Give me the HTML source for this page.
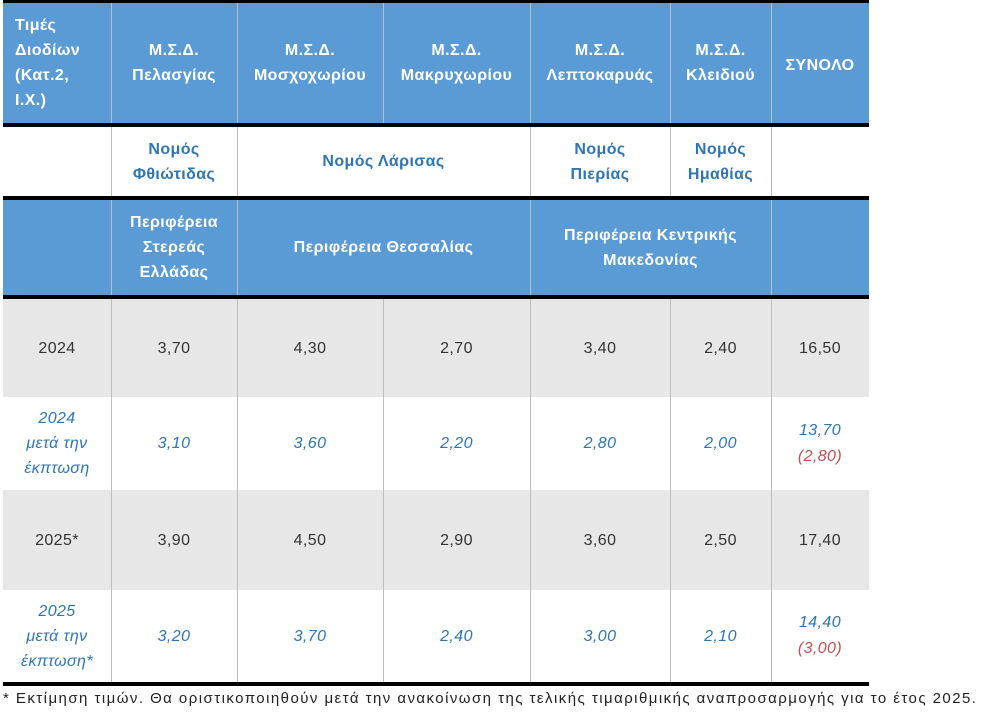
<!DOCTYPE html>
<html><head><meta charset="utf-8"><style>
body{margin:0;width:999px;height:717px;background:#fff;position:relative;font-family:"Liberation Sans","DejaVu Sans",sans-serif;overflow:hidden}
.c{position:absolute;display:flex;align-items:center;justify-content:center;text-align:center;font-size:16px;line-height:25px;box-sizing:border-box;letter-spacing:0.4px}
.h{background:#5b9bd5;color:#fff;font-weight:bold}
.w{background:#fff;color:#2e75b6;font-weight:bold}
.g{background:#e7e7e7;color:#333}
.i{background:#fff;color:#2e75b6;font-style:italic}
.r{color:#c0504d}
.k{position:absolute;background:#000;left:3px;width:866px;height:4px}
.v{position:absolute;width:1px;background:#bdbdbd}
</style></head><body>
<div class="c h" style="left:3px;top:3px;width:108px;height:120px;justify-content:flex-start;padding-left:12px;text-align:left"><div>Τιμές<br>Διοδίων<br>(Κατ.2,<br>Ι.Χ.)</div></div>
<div class="c h" style="left:111px;top:3px;width:126px;height:120px"><div>Μ.Σ.Δ.<br>Πελασγίας</div></div>
<div class="c h" style="left:237px;top:3px;width:146px;height:120px"><div>Μ.Σ.Δ.<br>Μοσχοχωρίου</div></div>
<div class="c h" style="left:383px;top:3px;width:147px;height:120px"><div>Μ.Σ.Δ.<br>Μακρυχωρίου</div></div>
<div class="c h" style="left:530px;top:3px;width:140px;height:120px"><div>Μ.Σ.Δ.<br>Λεπτοκαρυάς</div></div>
<div class="c h" style="left:670px;top:3px;width:101px;height:120px"><div>Μ.Σ.Δ.<br>Κλειδιού</div></div>
<div class="c h" style="left:771px;top:3px;width:98px;height:120px;align-items:flex-start;padding-top:50px"><div>ΣΥΝΟΛΟ</div></div>
<div class="c w" style="left:3px;top:127px;width:108px;height:69px"></div>
<div class="c w" style="left:111px;top:127px;width:126px;height:69px"><div>Νομός<br>Φθιώτιδας</div></div>
<div class="c w" style="left:237px;top:127px;width:293px;height:69px"><div>Νομός Λάρισας</div></div>
<div class="c w" style="left:530px;top:127px;width:140px;height:69px"><div>Νομός<br>Πιερίας</div></div>
<div class="c w" style="left:670px;top:127px;width:101px;height:69px"><div>Νομός<br>Ημαθίας</div></div>
<div class="c w" style="left:771px;top:127px;width:98px;height:69px"></div>
<div class="c h" style="left:3px;top:200px;width:866px;height:95px"></div>
<div class="c h" style="left:111px;top:200px;width:126px;height:95px"><div>Περιφέρεια<br>Στερεάς<br>Ελλάδας</div></div>
<div class="c h" style="left:237px;top:200px;width:293px;height:95px"><div>Περιφέρεια Θεσσαλίας</div></div>
<div class="c h" style="left:530px;top:200px;width:241px;height:95px"><div>Περιφέρεια Κεντρικής<br>Μακεδονίας</div></div>
<div class="c g" style="left:3px;top:299px;width:866px;height:98px"></div>
<div class="c g" style="left:3px;top:490px;width:866px;height:100px"></div>

<div class="c g" style="left:3px;top:299px;width:108px;height:98px"><div>2024</div></div>
<div class="c g" style="left:111px;top:299px;width:126px;height:98px"><div>3,70</div></div>
<div class="c g" style="left:237px;top:299px;width:146px;height:98px"><div>4,30</div></div>
<div class="c g" style="left:383px;top:299px;width:147px;height:98px"><div>2,70</div></div>
<div class="c g" style="left:530px;top:299px;width:140px;height:98px"><div>3,40</div></div>
<div class="c g" style="left:670px;top:299px;width:101px;height:98px"><div>2,40</div></div>
<div class="c g" style="left:771px;top:299px;width:98px;height:98px"><div>16,50</div></div>

<div class="c i" style="left:3px;top:397px;width:108px;height:93px"><div>2024<br>μετά την<br>έκπτωση</div></div>
<div class="c i" style="left:111px;top:397px;width:126px;height:93px"><div>3,10</div></div>
<div class="c i" style="left:237px;top:397px;width:146px;height:93px"><div>3,60</div></div>
<div class="c i" style="left:383px;top:397px;width:147px;height:93px"><div>2,20</div></div>
<div class="c i" style="left:530px;top:397px;width:140px;height:93px"><div>2,80</div></div>
<div class="c i" style="left:670px;top:397px;width:101px;height:93px"><div>2,00</div></div>
<div class="c i" style="left:771px;top:397px;width:98px;height:93px;line-height:26px"><div>13,70<br><span class="r">(2,80)</span></div></div>

<div class="c g" style="left:3px;top:490px;width:108px;height:100px"><div>2025*</div></div>
<div class="c g" style="left:111px;top:490px;width:126px;height:100px"><div>3,90</div></div>
<div class="c g" style="left:237px;top:490px;width:146px;height:100px"><div>4,50</div></div>
<div class="c g" style="left:383px;top:490px;width:147px;height:100px"><div>2,90</div></div>
<div class="c g" style="left:530px;top:490px;width:140px;height:100px"><div>3,60</div></div>
<div class="c g" style="left:670px;top:490px;width:101px;height:100px"><div>2,50</div></div>
<div class="c g" style="left:771px;top:490px;width:98px;height:100px"><div>17,40</div></div>

<div class="c i" style="left:3px;top:590px;width:108px;height:92px"><div>2025<br>μετά την<br>έκπτωση*</div></div>
<div class="c i" style="left:111px;top:590px;width:126px;height:92px"><div>3,20</div></div>
<div class="c i" style="left:237px;top:590px;width:146px;height:92px"><div>3,70</div></div>
<div class="c i" style="left:383px;top:590px;width:147px;height:92px"><div>2,40</div></div>
<div class="c i" style="left:530px;top:590px;width:140px;height:92px"><div>3,00</div></div>
<div class="c i" style="left:670px;top:590px;width:101px;height:92px"><div>2,10</div></div>
<div class="c i" style="left:771px;top:590px;width:98px;height:92px;line-height:26px"><div>14,40<br><span class="r">(3,00)</span></div></div>

<div class="v" style="left:111px;top:3px;height:679px"></div>
<div class="v" style="left:237px;top:3px;height:679px"></div>
<div class="v" style="left:383px;top:3px;height:120px"></div>
<div class="v" style="left:383px;top:299px;height:383px"></div>
<div class="v" style="left:530px;top:3px;height:679px"></div>
<div class="v" style="left:670px;top:3px;height:196px"></div>
<div class="v" style="left:670px;top:299px;height:383px"></div>
<div class="v" style="left:771px;top:3px;height:679px"></div>

<div class="k" style="top:0;height:3px"></div>
<div class="k" style="top:123px"></div>
<div class="k" style="top:196px"></div>
<div class="k" style="top:295px"></div>
<div class="k" style="top:682px"></div>

<div style="position:absolute;left:3px;top:690px;font-size:15px;letter-spacing:1.45px;color:#222;white-space:nowrap">* Εκτίμηση τιμών. Θα οριστικοποιηθούν μετά την ανακοίνωση της τελικής τιμαριθμικής αναπροσαρμογής για το έτος 2025.</div>
</body></html>
